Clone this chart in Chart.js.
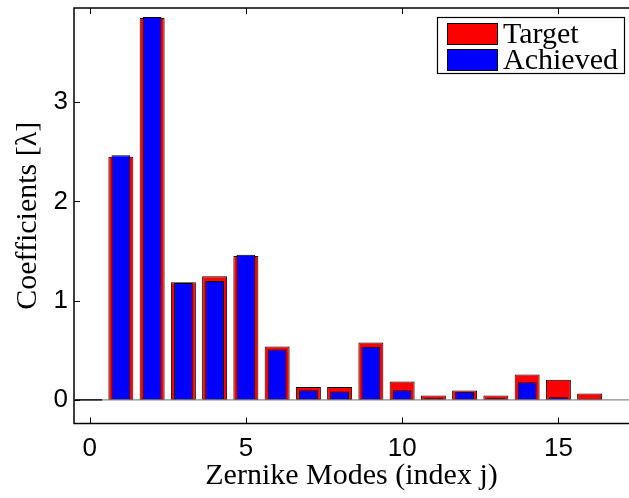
<!DOCTYPE html>
<html>
<head>
<meta charset="utf-8">
<script src="https://cdn.jsdelivr.net/npm/chart.js@4/dist/chart.umd.min.js"></script>
<style>
  html, body { margin: 0; padding: 0; background: #fff; }
  #c { display: block; }
</style>
</head>
<body>
<canvas id="c" width="629" height="498"></canvas>
<script>
// ---- data ----
const modes = [0, 1, 2, 3, 4, 5, 6, 7, 8, 9, 10, 11, 12, 13, 14, 15, 16];
const target = [0, 2.45, 3.85, 1.185, 1.245, 1.45, 0.537, 0.131, 0.131, 0.579, 0.186, 0.044, 0.095, 0.044, 0.256, 0.202, 0.064];
const achieved = [0, 2.466, 3.859, 1.178, 1.198, 1.463, 0.508, 0.098, 0.085, 0.535, 0.098, 0.017, 0.081, 0.017, 0.179, 0.027, 0.004];
const xTicks = [0, 5, 10, 15];
const yTicks = [0, 1, 2, 3];
const seriesNames = ['Target', 'Achieved'];
const xTitle = 'Zernike Modes (index j)';
const yTitle = 'Coefficients [\u03bb]';

const serif = '"Liberation Serif", "Times New Roman", serif';
const sans = '"Liberation Sans", Arial, Helvetica, sans-serif';

const framePlugin = {
  id: 'frame',
  afterDatasetsDraw(chart) {
    const { ctx, chartArea: a, scales: { x, y } } = chart;
    ctx.save();
    // baseline
    const y0 = y.getPixelForValue(0);
    ctx.strokeStyle = '#8a8a8a';
    ctx.lineWidth = 1.3;
    ctx.beginPath(); ctx.moveTo(a.left, y0); ctx.lineTo(a.right, y0); ctx.stroke();
    // zero-height bars outline
    const meta = chart.getDatasetMeta(0);
    ctx.strokeStyle = '#000';
    ctx.lineWidth = 1.3;
    meta.data.forEach((el, i) => {
      if (chart.data.datasets[0].data[i].y === 0) {
        ctx.beginPath(); ctx.moveTo(el.x - el.width / 2 - 2, el.base); ctx.lineTo(el.x + el.width / 2, el.base); ctx.stroke();
      }
    });
    // frame
    ctx.strokeStyle = '#000';
    ctx.lineWidth = 1.5;
    ctx.beginPath();
    ctx.moveTo(a.right + 2, a.top); ctx.lineTo(a.left, a.top); ctx.lineTo(a.left, a.bottom); ctx.lineTo(a.right + 2, a.bottom);
    ctx.stroke();
    // inward ticks
    ctx.lineWidth = 1;
    const tl = 6;
    xTicks.forEach(v => {
      const px = Math.round(x.getPixelForValue(v)) + 0.5;
      ctx.beginPath(); ctx.moveTo(px, a.bottom); ctx.lineTo(px, a.bottom - tl); ctx.stroke();
      ctx.beginPath(); ctx.moveTo(px, a.top); ctx.lineTo(px, a.top + tl); ctx.stroke();
    });
    yTicks.forEach(v => {
      const py = Math.round(y.getPixelForValue(v)) + 0.5;
      ctx.beginPath(); ctx.moveTo(a.left, py); ctx.lineTo(a.left + tl, py); ctx.stroke();
    });
    // legend
    const bw = 187, bh = 56;
    const bx = a.right - 5 - bw, by = a.top + 9;
    ctx.fillStyle = '#fff';
    ctx.fillRect(bx, by, bw, bh);
    ctx.strokeStyle = '#000';
    ctx.lineWidth = 1.2;
    ctx.strokeRect(bx + 0.5, by + 0.5, bw, bh);
    const ds = chart.data.datasets;
    [0, 1].forEach((di, k) => {
      const sy = by + 6 + k * 26;
      ctx.fillStyle = ds[di].backgroundColor;
      ctx.fillRect(bx + 10, sy, 50, 21);
      ctx.strokeStyle = '#000';
      ctx.lineWidth = 1;
      ctx.strokeRect(bx + 10.5, sy + 0.5, 50, 21);
      ctx.fillStyle = '#000';
      ctx.font = '30px ' + serif;
      ctx.textBaseline = 'alphabetic';
      ctx.textAlign = 'left';
      ctx.fillText(ds[di].label, bx + 66, sy + 20);
    });
    ctx.restore();
  }
};

new Chart(document.getElementById('c'), {
  type: 'bar',
  data: {
    datasets: [
      {
        label: seriesNames[0],
        data: modes.map((m, i) => ({ x: m, y: target[i] })),
        backgroundColor: '#ff0000',
        borderColor: '#000000',
        borderWidth: 1,
        borderSkipped: false,
        barPercentage: 0.8,
        categoryPercentage: 1,
        grouped: false,
        order: 2
      },
      {
        label: seriesNames[1],
        data: modes.map((m, i) => ({ x: m, y: achieved[i] })),
        backgroundColor: '#0000ff',
        borderColor: '#000000',
        borderWidth: 1,
        borderSkipped: false,
        barPercentage: 0.6,
        categoryPercentage: 1,
        grouped: false,
        order: 1
      }
    ]
  },
  options: {
    responsive: false,
    devicePixelRatio: 1,
    animation: false,
    layout: { padding: { top: 8, right: 0, left: 0, bottom: 0 } },
    plugins: { legend: { display: false }, tooltip: { enabled: false } },
    scales: {
      x: {
        type: 'linear',
        min: -0.5,
        max: 17.26,
        offset: false,
        grid: { display: false, drawTicks: false },
        border: { display: false },
        afterBuildTicks: s => { s.ticks = xTicks.map(v => ({ value: v })); },
        afterFit: s => { s.height = 74.5; s.paddingLeft = 0; s.paddingRight = 0; },
        ticks: { font: { family: sans, size: 26 }, color: '#000', padding: 10, maxRotation: 0 },
        title: { display: true, text: xTitle, font: { family: serif, size: 30 }, color: '#000', padding: { top: 0, bottom: 4 } }
      },
      y: {
        min: -0.238,
        max: 3.95,
        grid: { display: false, drawTicks: false },
        border: { display: false },
        afterBuildTicks: s => { s.ticks = yTicks.map(v => ({ value: v })); },
        afterFit: s => { s.width = 74; s.paddingTop = 0; s.paddingBottom = 0; },
        ticks: { font: { family: sans, size: 26 }, color: '#000', padding: 6 },
        title: { display: true, text: yTitle, font: { family: serif, size: 30 }, color: '#000', padding: { top: 10, bottom: 0 } }
      }
    }
  },
  plugins: [framePlugin]
});
</script>
</body>
</html>
